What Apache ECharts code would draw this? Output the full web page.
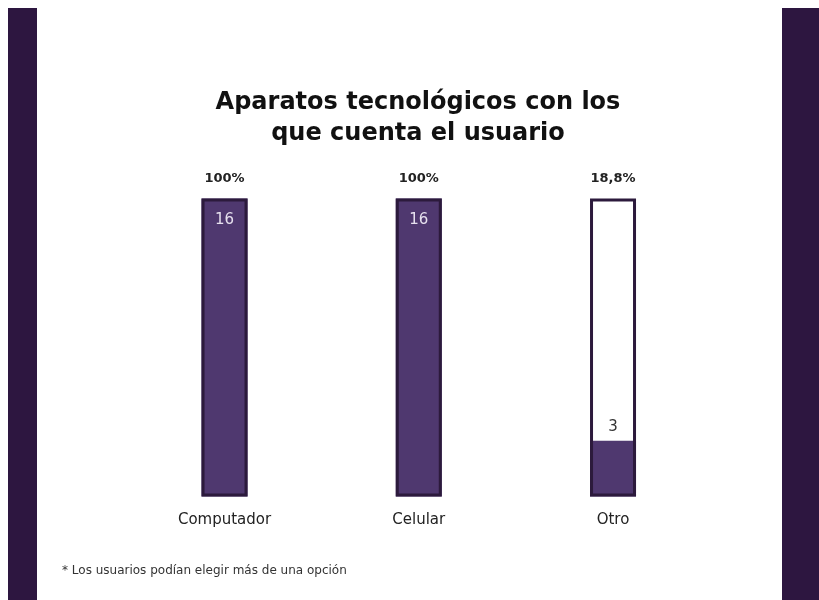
<!DOCTYPE html>
<html>
<head>
<meta charset="utf-8">
<script src="https://cdn.jsdelivr.net/npm/echarts@6/dist/echarts.min.js"></script>
<style>html,body{margin:0;padding:0;background:#fff}#c{width:819px;height:600px}</style>
</head>
<body>
<div id="c"></div>
<script>
const categories = ['Computador', 'Celular', 'Otro'];
const counts = [16, 16, 3];
const totalUsers = 16;
const percentLabels = ['100%', '100%', '18,8%'];
const titleText = 'Aparatos tecnológicos con los\nque cuenta el usuario';
const footnote = '* Los usuarios podían elegir más de una opción';

const DARK = '#2d1640';
const FILL = '#4f386f';
const BORDER = '#2c1a3c';

const chart = echarts.init(document.getElementById('c'), null, {renderer: 'canvas'});

const fillData = counts.map(v => ({
  value: v,
  label: v >= totalUsers
    ? {position: 'insideTop', distance: 14, color: '#e6e0ee'}
    : {position: 'top', distance: 6, color: '#333'}
}));

chart.setOption({
  backgroundColor: '#fff',
  animation: false,
  title: {
    text: titleText,
    left: 413,
    top: 82,
    textAlign: 'center',
    textStyle: {fontFamily: 'DejaVu Sans', fontSize: 24, fontWeight: 'bold', color: '#111', lineHeight: 31}
  },
  graphic: [
    {type: 'rect', left: 8, top: 8, shape: {width: 29, height: 592}, style: {fill: DARK}, z: -10},
    {type: 'rect', left: 782, top: 8, shape: {width: 37, height: 592}, style: {fill: DARK}, z: -10},
    {type: 'text', left: 62, top: 565, style: {text: footnote, fontFamily: 'DejaVu Sans', fontSize: 12, fill: '#333'}}
  ],
  grid: {left: 127.4, right: 108.85, top: 198.5, bottom: 103.5, containLabel: false},
  xAxis: {
    type: 'category',
    data: categories,
    axisLine: {show: false},
    axisTick: {show: false},
    axisLabel: {margin: 16, fontFamily: 'DejaVu Sans', fontSize: 15, color: '#222'}
  },
  yAxis: {
    type: 'value', min: 0, max: totalUsers,
    show: false,
    splitLine: {show: false}
  },
  series: [
    {
      type: 'bar', name: 'fondo', barWidth: 46, barGap: '-100%',
      data: counts.map(() => totalUsers),
      itemStyle: {color: '#fff'}, silent: true, z: 1
    },
    {
      type: 'bar', name: 'usuarios', barWidth: 46, barGap: '-100%',
      data: fillData,
      itemStyle: {color: FILL},
      label: {show: true, fontFamily: 'DejaVu Sans', fontSize: 15, fontWeight: 'normal'},
      z: 2
    },
    {
      type: 'bar', name: 'borde', barWidth: 46, barGap: '-100%',
      data: counts.map(() => totalUsers),
      itemStyle: {color: 'rgba(0,0,0,0)', borderColor: BORDER, borderWidth: 3},
      label: {
        show: true, position: 'top', distance: 13,
        fontFamily: 'DejaVu Sans', fontSize: 13, fontWeight: 'bold', color: '#222',
        formatter: p => percentLabels[p.dataIndex]
      },
      z: 3
    }
  ]
});
</script>
</body>
</html>
